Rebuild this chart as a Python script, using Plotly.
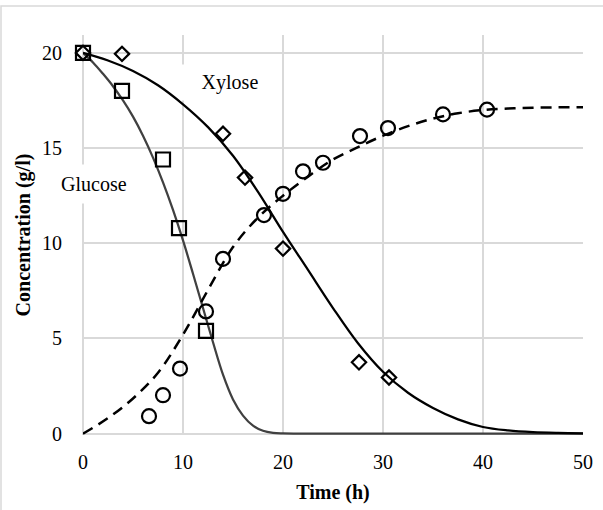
import plotly.graph_objects as go

# Measured concentrations (g/l) versus time (h)
glucose_time = [0.0, 3.9, 8.0, 9.6, 12.3]
glucose_conc = [20.0, 18.0, 14.4, 10.8, 5.4]

xylose_time = [0.0, 3.9, 14.0, 16.2, 20.0, 27.6, 30.6]
xylose_conc = [20.0, 19.95, 15.75, 13.45, 9.72, 3.75, 2.95]

ethanol_time = [6.6, 8.0, 9.7, 12.3, 14.0, 18.1, 20.0, 22.0, 24.0, 27.7, 30.5, 36.0, 40.4]
ethanol_conc = [0.92, 2.02, 3.42, 6.42, 9.18, 11.48, 12.6, 13.78, 14.23, 15.63, 16.05, 16.77, 17.02]

# Model curves, sampled at regular time steps
glucose_fit_time = [0, 1, 2, 3, 4, 5, 6, 7, 8, 9, 10, 11, 12, 13, 14, 15, 16, 17, 18, 19, 20,
                    22, 25, 30, 35, 40, 45, 50]
glucose_fit_conc = [20.0, 19.5, 18.9, 18.25, 17.5, 16.65, 15.65, 14.5, 13.2, 11.75, 10.15, 8.4,
                    6.6, 4.8, 3.1, 1.8, 0.95, 0.42, 0.15, 0.04, 0.01,
                    0.0, 0.0, 0.0, 0.0, 0.0, 0.0, 0.0]

xylose_fit_time = [0, 2.5, 5, 7.5, 10, 12.5, 15, 17.5, 20, 22.5, 25, 27.5, 30, 32.5, 35,
                   37.5, 40, 42.5, 45, 47.5, 50]
xylose_fit_conc = [20.0, 19.6, 19.05, 18.3, 17.3, 16.1, 14.6, 12.7, 10.6, 8.6, 6.6, 4.75, 3.25,
                   2.15, 1.35, 0.75, 0.35, 0.17, 0.08, 0.04, 0.02]

ethanol_fit_time = [0, 2.5, 5, 7.5, 10, 12.5, 15, 17.5, 20, 22.5, 25, 27.5, 30, 32.5, 35,
                    37.5, 40, 42.5, 45, 47.5, 50]
ethanol_fit_conc = [0.0, 0.82, 1.85, 3.2, 5.2, 7.55, 9.8, 11.35, 12.5, 13.5, 14.4, 15.05, 15.65,
                    16.15, 16.55, 16.83, 17.0, 17.08, 17.12, 17.14, 17.15]

x_ticks = [0, 10, 20, 30, 40, 50]
y_ticks = [0, 5, 10, 15, 20]

FONT = "Liberation Serif"
GRID = "#d9d9d9"

fig = go.Figure()

fig.add_trace(go.Scatter(
    x=glucose_fit_time, y=glucose_fit_conc, mode="lines",
    line=dict(color="#404040", width=2.25, shape="spline", smoothing=1),
    showlegend=False, hoverinfo="skip"))
fig.add_trace(go.Scatter(
    x=xylose_fit_time, y=xylose_fit_conc, mode="lines",
    line=dict(color="#000000", width=2.25, shape="spline", smoothing=1),
    showlegend=False, hoverinfo="skip"))
fig.add_trace(go.Scatter(
    x=ethanol_fit_time, y=ethanol_fit_conc, mode="lines",
    line=dict(color="#000000", width=2.5, dash="11px,7px", shape="spline", smoothing=1),
    showlegend=False, hoverinfo="skip"))

fig.add_trace(go.Scatter(
    x=glucose_time, y=glucose_conc, mode="markers", name="Glucose",
    marker=dict(symbol="square-open", size=14, color="#000000", line=dict(width=2.2, color="#000000")),
    showlegend=False, cliponaxis=False))
fig.add_trace(go.Scatter(
    x=xylose_time, y=xylose_conc, mode="markers", name="Xylose",
    marker=dict(symbol="diamond-open", size=11, color="#000000", line=dict(width=2.2, color="#000000")),
    showlegend=False, cliponaxis=False))
fig.add_trace(go.Scatter(
    x=ethanol_time, y=ethanol_conc, mode="markers", name="Ethanol",
    marker=dict(symbol="circle-open", size=14, color="#000000", line=dict(width=2.2, color="#000000")),
    showlegend=False, cliponaxis=False))

fig.add_annotation(x=14.7, y=18.43, xref="x", yref="y", text="Xylose", showarrow=False,
                   font=dict(family=FONT, size=20, color="#000000"),
                   width=86, bgcolor="#ffffff", borderpad=6)
fig.add_annotation(x=1.1, y=13.09, xref="x", yref="y", text="Glucose", showarrow=False,
                   font=dict(family=FONT, size=20, color="#000000"),
                   bgcolor="#ffffff", borderpad=8)

# Outer chart border
fig.add_shape(type="rect", xref="paper", yref="paper",
              x0=(1 - 83) / 500, x1=(603 - 83) / 500 + 0.01,
              y0=(435 - 515) / 400, y1=(435 - 6) / 400,
              line=dict(color=GRID, width=1.5), fillcolor="rgba(0,0,0,0)", layer="below")

fig.update_xaxes(
    range=[0, 50], tickvals=x_ticks, ticktext=[str(v) for v in x_ticks],
    showgrid=True, gridcolor=GRID, gridwidth=1.5,
    zeroline=True, zerolinecolor=GRID, zerolinewidth=1.5,
    showline=False, ticks="outside", ticklen=9, tickcolor="rgba(0,0,0,0)",
    tickfont=dict(family=FONT, size=20, color="#000000"),
    title=dict(text="<b>Time (h)</b>", font=dict(family=FONT, size=20, color="#000000"), standoff=12))
fig.update_yaxes(
    range=[-0.07, 20.94], tickvals=y_ticks, ticktext=[str(v) for v in y_ticks],
    showgrid=True, gridcolor=GRID, gridwidth=1.5,
    zeroline=True, zerolinecolor=GRID, zerolinewidth=1.5,
    showline=False, ticks="outside", ticklen=16, tickcolor="rgba(0,0,0,0)",
    tickfont=dict(family=FONT, size=20, color="#000000"),
    title=dict(text="<b>Concentration (g/l)</b>", font=dict(family=FONT, size=20, color="#000000"), standoff=6))

fig.update_layout(
    width=603, height=510,
    margin=dict(l=83, r=20, t=35, b=75, autoexpand=False),
    paper_bgcolor="#ffffff", plot_bgcolor="#ffffff",
    showlegend=False)

fig.write_html("out.html")
